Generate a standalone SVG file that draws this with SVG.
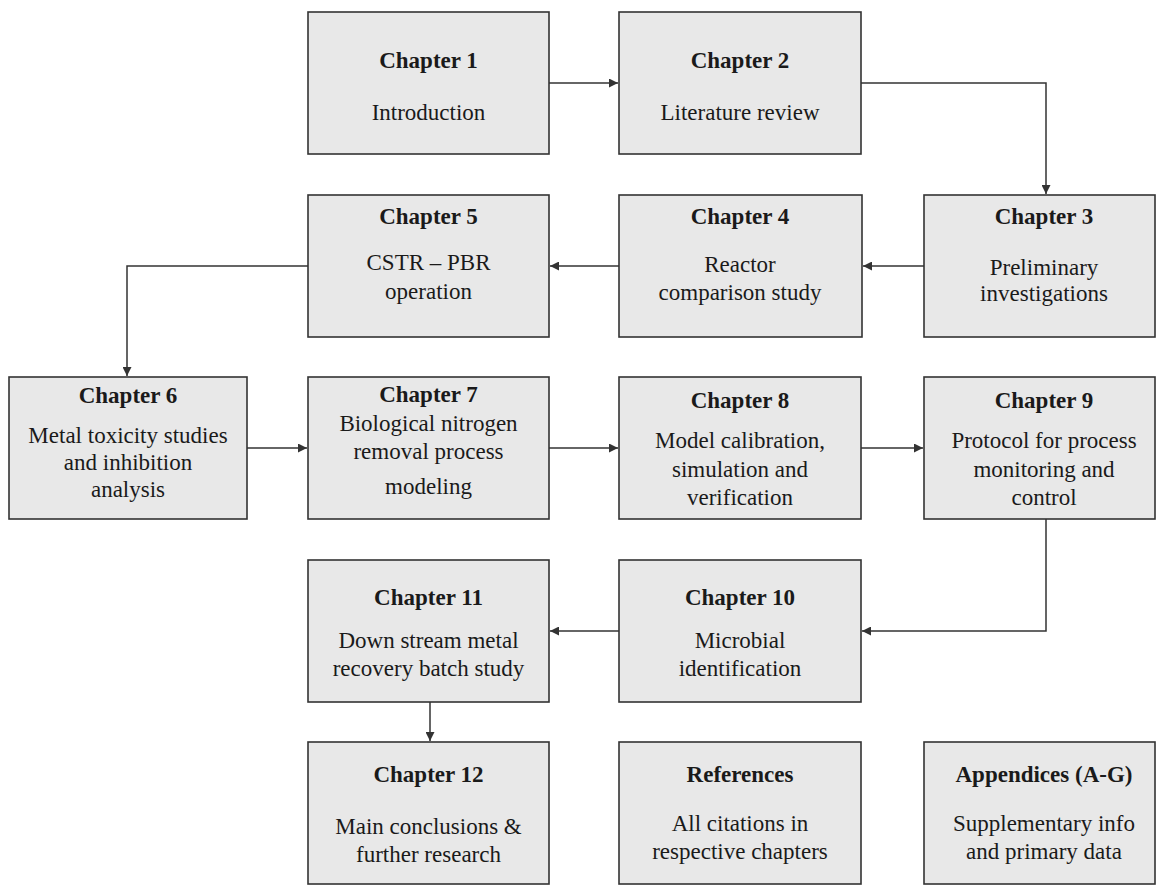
<svg xmlns="http://www.w3.org/2000/svg" width="1156" height="886" viewBox="0 0 1156 886">
<style>
.box{fill:#e8e8e8;stroke:#333;stroke-width:1.6}
.t{font-family:"Liberation Serif","Times New Roman",serif;font-size:23px;font-weight:bold;fill:#1a1a1a;text-anchor:middle}
.b{font-family:"Liberation Serif","Times New Roman",serif;font-size:23px;fill:#1a1a1a;text-anchor:middle}
.c{fill:none;stroke:#333;stroke-width:1.5}
</style>
<defs>
<marker id="ah" viewBox="0 0 10 10" refX="10" refY="5" markerWidth="9" markerHeight="9" markerUnits="userSpaceOnUse" orient="auto">
<path d="M0,0 L10,5 L0,10 Z" fill="#333"/>
</marker>
</defs>
<rect width="1156" height="886" fill="#fff"/>
<g id="connectors">
<path class="c" d="M549,83 H618" marker-end="url(#ah)"/>
<path class="c" d="M861,83 H1046 V194" marker-end="url(#ah)"/>
<path class="c" d="M924,266 H863" marker-end="url(#ah)"/>
<path class="c" d="M619,266 H550" marker-end="url(#ah)"/>
<path class="c" d="M308,266 H127 V376" marker-end="url(#ah)"/>
<path class="c" d="M247,448 H307" marker-end="url(#ah)"/>
<path class="c" d="M549,448 H618" marker-end="url(#ah)"/>
<path class="c" d="M861,448 H923" marker-end="url(#ah)"/>
<path class="c" d="M1046,519 V631 H862" marker-end="url(#ah)"/>
<path class="c" d="M619,631 H550" marker-end="url(#ah)"/>
<path class="c" d="M430,702 V741" marker-end="url(#ah)"/>
</g>
<g id="ch1"><rect class="box" x="308" y="12" width="241" height="142"/><text class="t" x="428.5" y="68">Chapter 1</text><text class="b" x="428.5" y="120">Introduction</text></g>
<g id="ch2"><rect class="box" x="619" y="12" width="242" height="142"/><text class="t" x="740" y="68">Chapter 2</text><text class="b" x="740" y="120">Literature review</text></g>
<g id="ch3"><rect class="box" x="924" y="195" width="231" height="142"/><text class="t" x="1044" y="224">Chapter 3</text><text class="b" x="1044" y="275">Preliminary</text><text class="b" x="1044" y="301">investigations</text></g>
<g id="ch4"><rect class="box" x="619" y="195" width="243" height="142"/><text class="t" x="740" y="224">Chapter 4</text><text class="b" x="740" y="272">Reactor</text><text class="b" x="740" y="300">comparison study</text></g>
<g id="ch5"><rect class="box" x="308" y="195" width="241" height="142"/><text class="t" x="428.5" y="224">Chapter 5</text><text class="b" x="428.5" y="270">CSTR – PBR</text><text class="b" x="428.5" y="299">operation</text></g>
<g id="ch6"><rect class="box" x="9" y="377" width="238" height="142"/><text class="t" x="128" y="403">Chapter 6</text><text class="b" x="128" y="443">Metal toxicity studies</text><text class="b" x="128" y="470">and inhibition</text><text class="b" x="128" y="497">analysis</text></g>
<g id="ch7"><rect class="box" x="308" y="377" width="241" height="142"/><text class="t" x="428.5" y="402">Chapter 7</text><text class="b" x="428.5" y="431">Biological nitrogen</text><text class="b" x="428.5" y="459">removal process</text><text class="b" x="428.5" y="494">modeling</text></g>
<g id="ch8"><rect class="box" x="619" y="377" width="242" height="142"/><text class="t" x="740" y="408">Chapter 8</text><text class="b" x="740" y="448">Model calibration,</text><text class="b" x="740" y="477">simulation and</text><text class="b" x="740" y="505">verification</text></g>
<g id="ch9"><rect class="box" x="924" y="377" width="231" height="142"/><text class="t" x="1044" y="408">Chapter 9</text><text class="b" x="1044" y="448">Protocol for process</text><text class="b" x="1044" y="477">monitoring and</text><text class="b" x="1044" y="505">control</text></g>
<g id="ch10"><rect class="box" x="619" y="560" width="242" height="142"/><text class="t" x="740" y="605">Chapter 10</text><text class="b" x="740" y="648">Microbial</text><text class="b" x="740" y="676">identification</text></g>
<g id="ch11"><rect class="box" x="308" y="560" width="241" height="142"/><text class="t" x="428.5" y="605">Chapter 11</text><text class="b" x="428.5" y="648">Down stream metal</text><text class="b" x="428.5" y="676">recovery batch study</text></g>
<g id="ch12"><rect class="box" x="308" y="742" width="241" height="142"/><text class="t" x="428.5" y="782">Chapter 12</text><text class="b" x="428.5" y="834">Main conclusions &amp;</text><text class="b" x="428.5" y="862">further research</text></g>
<g id="references"><rect class="box" x="619" y="742" width="242" height="142"/><text class="t" x="740" y="782">References</text><text class="b" x="740" y="831">All citations in</text><text class="b" x="740" y="859">respective chapters</text></g>
<g id="appendices"><rect class="box" x="924" y="742" width="231" height="142"/><text class="t" x="1044" y="782">Appendices (A-G)</text><text class="b" x="1044" y="831">Supplementary info</text><text class="b" x="1044" y="859">and primary data</text></g>
</svg>
